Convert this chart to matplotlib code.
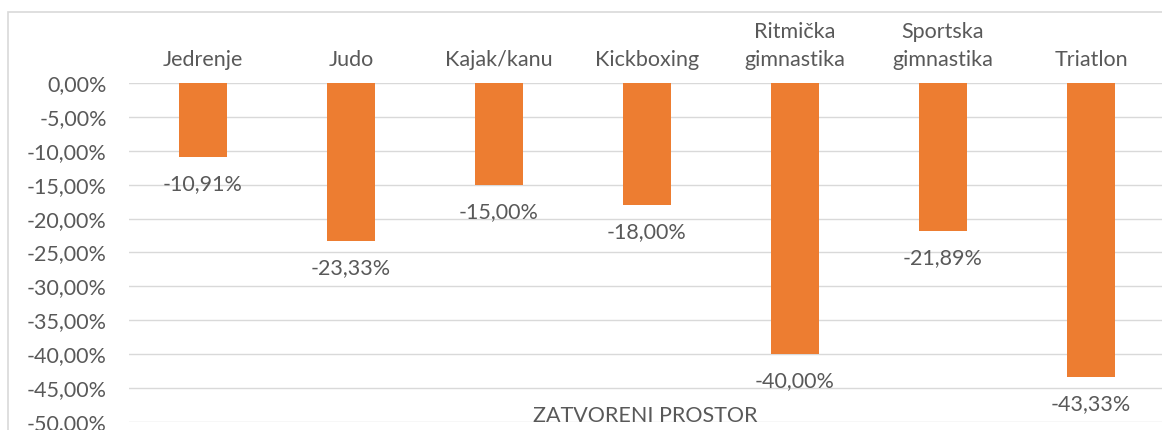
import matplotlib

matplotlib.use("Agg")
import matplotlib.pyplot as plt
from matplotlib.patches import Rectangle
from matplotlib.ticker import FuncFormatter

SPORTS = ["Jedrenje", "Judo", "Kajak/kanu", "Kickboxing",
          "Ritmička\ngimnastika", "Sportska\ngimnastika", "Triatlon"]
CHANGE = [-10.91, -23.33, -15.00, -18.00, -40.00, -21.89, -43.33]
Y_TICKS = [0, -5, -10, -15, -20, -25, -30, -35, -40, -45, -50]
AXIS_TITLE = "ZATVORENI PROSTOR"

ORANGE = "#ED7D31"
TEXT = "#595959"
GRID = "#D9D9D9"
FS = 15.5

plt.rcParams["font.family"] = ["Lato", "DejaVu Sans"]

W, H = 1162, 430
fig = plt.figure(figsize=(W / 100, H / 100), dpi=100)

# chart frame (cropped on right and bottom in the reference)
fig.patches.append(Rectangle((8 / W, -0.1), 1.2, 1.1 - 12 / H, transform=fig.transFigure,
                             fill=False, edgecolor=GRID, lw=1.2))

ax = fig.add_axes([129 / W, 1 - 422 / H, 1036 / W, 339 / H])
x = range(len(SPORTS))
ax.bar(x, CHANGE, width=0.32, color=ORANGE, zorder=3)

def pct(v, pos=None):
    return f"{v:.2f}%".replace(".", ",")

for xi, v in zip(x, CHANGE):
    ax.annotate(pct(v), (xi, v), xytext=(0, -19.5), textcoords="offset points",
                ha="center", va="center", fontsize=FS, color=TEXT, zorder=4)

ax.set_xlim(-0.5, len(SPORTS) - 0.5)
ax.set_ylim(-50, 0)
ax.set_yticks(Y_TICKS)
ax.yaxis.set_major_formatter(FuncFormatter(pct))
ax.set_xticks(list(x))
ax.set_xticklabels(SPORTS, linespacing=1.5)
ax.xaxis.tick_top()
ax.tick_params(axis="x", length=0, pad=9, labelsize=FS, labelcolor=TEXT)
ax.tick_params(axis="y", length=0, pad=16, labelsize=FS, labelcolor=TEXT)
ax.grid(axis="y", color=GRID, lw=1.0, zorder=0)
for s in ax.spines.values():
    s.set_visible(False)

fig.text(645 / W, 1 - 416 / H, AXIS_TITLE, ha="center", va="center", fontsize=FS, color=TEXT)

fig.savefig("out.png", dpi=100)
